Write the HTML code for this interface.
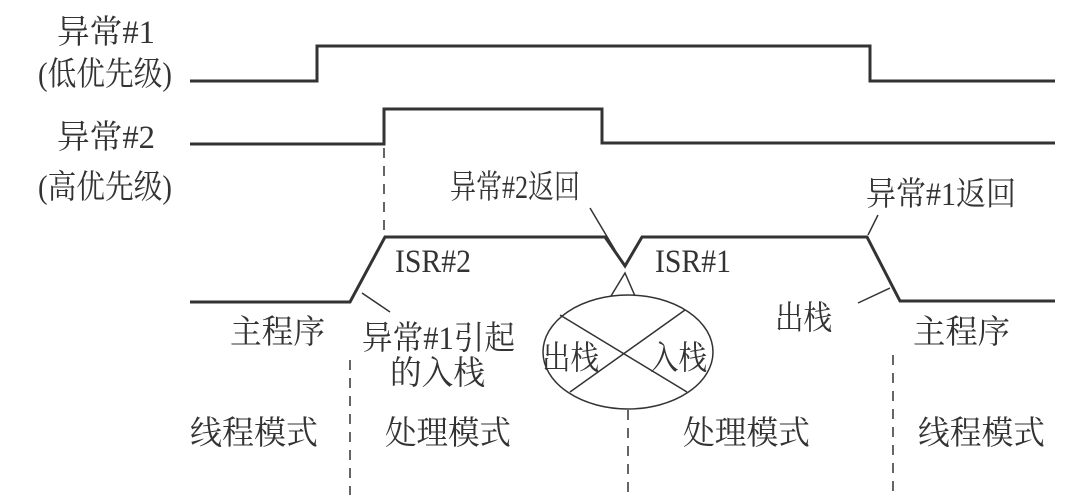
<!DOCTYPE html>
<html><head><meta charset="utf-8"><style>
html,body{margin:0;padding:0;background:#fff;}
svg{display:block;}
text{font-family:"Liberation Serif","Noto Serif CJK SC","Noto Sans CJK SC",serif;font-size:33px;fill:#333;}
</style></head><body>
<svg width="1077" height="499" viewBox="0 0 1077 499" xmlns="http://www.w3.org/2000/svg">
<g fill="none" stroke="#333" stroke-width="3">
<polyline points="190,81 317,81 317,46 870,46 870,81 1055,81"/>
<polyline points="190,144 384,144 384,109 602,109 602,143 1055,143"/>
<polyline points="190,302 350,302 385,237 605,237 625,266 642,237 867,237 900,301 1055,301"/>
</g>
<g fill="none" stroke="#333" stroke-width="1.5">
<line x1="362" y1="293" x2="390" y2="312"/>
<line x1="590" y1="208" x2="615" y2="250"/>
<line x1="878" y1="215" x2="868" y2="235"/>
<line x1="858" y1="303" x2="890" y2="288"/>
<ellipse cx="628" cy="352" rx="85" ry="57"/>
<polyline points="611,296 625,273 635,296"/>
<line x1="560" y1="315" x2="687" y2="392"/>
<line x1="685" y1="310" x2="570" y2="392"/>
<g stroke-dasharray="10,8">
<line x1="384" y1="148" x2="384" y2="235"/>
<line x1="350" y1="360" x2="350" y2="495"/>
<line x1="628" y1="410" x2="628" y2="495"/>
<line x1="893" y1="355" x2="893" y2="495"/>
</g>
</g>
<text x="57" y="43" textLength="98" lengthAdjust="spacingAndGlyphs">异常#1</text>
<text x="38" y="85" textLength="134" lengthAdjust="spacingAndGlyphs">(低优先级)</text>
<text x="57" y="148" textLength="98" lengthAdjust="spacingAndGlyphs">异常#2</text>
<text x="38" y="198" textLength="134" lengthAdjust="spacingAndGlyphs">(高优先级)</text>
<text x="450" y="198" textLength="130" lengthAdjust="spacingAndGlyphs">异常#2返回</text>
<text x="866" y="205" textLength="150" lengthAdjust="spacingAndGlyphs">异常#1返回</text>
<text x="395" y="272" textLength="76" lengthAdjust="spacingAndGlyphs">ISR#2</text>
<text x="655" y="272" textLength="76" lengthAdjust="spacingAndGlyphs">ISR#1</text>
<text x="230" y="343" textLength="95" lengthAdjust="spacingAndGlyphs">主程序</text>
<text x="362" y="349" textLength="153" lengthAdjust="spacingAndGlyphs">异常#1引起</text>
<text x="390" y="384" textLength="95" lengthAdjust="spacingAndGlyphs">的入栈</text>
<text x="542" y="369" textLength="57" lengthAdjust="spacingAndGlyphs">出栈</text>
<text x="650" y="369" textLength="57" lengthAdjust="spacingAndGlyphs">入栈</text>
<text x="775" y="329" textLength="57" lengthAdjust="spacingAndGlyphs">出栈</text>
<text x="913" y="343" textLength="97" lengthAdjust="spacingAndGlyphs">主程序</text>
<text x="190" y="444" textLength="128" lengthAdjust="spacingAndGlyphs">线程模式</text>
<text x="385" y="444" textLength="126" lengthAdjust="spacingAndGlyphs">处理模式</text>
<text x="683" y="444" textLength="127" lengthAdjust="spacingAndGlyphs">处理模式</text>
<text x="918" y="444" textLength="127" lengthAdjust="spacingAndGlyphs">线程模式</text>
</svg>
</body></html>
